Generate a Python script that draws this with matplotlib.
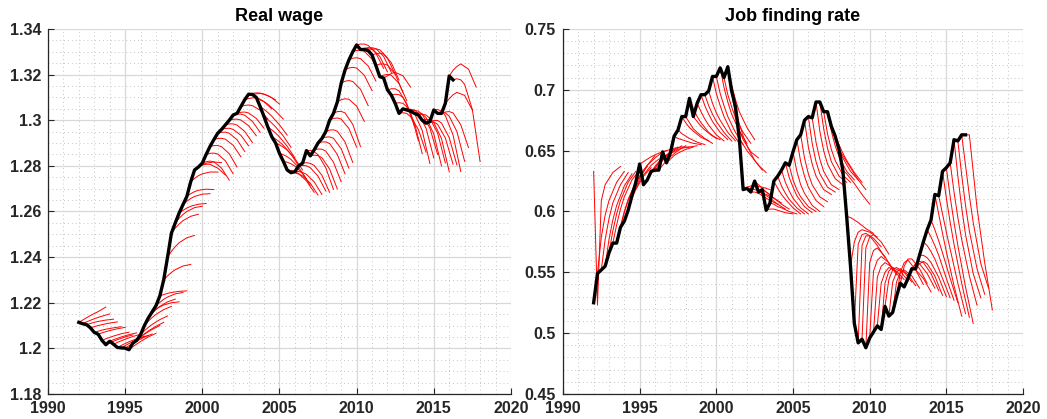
import numpy as np
import matplotlib.pyplot as plt
from matplotlib.ticker import MultipleLocator, FuncFormatter

plt.rcParams['font.family'] = ['Liberation Sans', 'DejaVu Sans']
plt.rcParams['font.weight'] = 'bold'

# quarterly data, first quarter = 1992Q1
first_year = 1992
horizons = [0, 1, 2, 3, 5, 7]  # forecast steps (quarters ahead) that are stored

# --- Real wage: actual series ---
wage = [
    1.2114, 1.2108, 1.2104, 1.2090,
    1.2070, 1.2062, 1.2035, 1.2016,
    1.2031, 1.2018, 1.2004, 1.2002,
    1.2001, 1.1994, 1.2023, 1.2035,
    1.2060, 1.2100, 1.2133, 1.2160,
    1.2187, 1.2230, 1.2300, 1.2400,
    1.2505, 1.2550, 1.2593, 1.2630,
    1.2666, 1.2730, 1.2782, 1.2795,
    1.2812, 1.2850, 1.2885, 1.2915,
    1.2943, 1.2960, 1.2980, 1.3000,
    1.3023, 1.3030, 1.3060, 1.3090,
    1.3114, 1.3113, 1.3100, 1.3060,
    1.3016, 1.2970, 1.2928, 1.2900,
    1.2855, 1.2820, 1.2782, 1.2770,
    1.2775, 1.2800, 1.2812, 1.2867,
    1.2844, 1.2870, 1.2900, 1.2920,
    1.2950, 1.3000, 1.3030, 1.3080,
    1.3162, 1.3220, 1.3264, 1.3300,
    1.3330, 1.3310, 1.3310, 1.3305,
    1.3286, 1.3240, 1.3191, 1.3185,
    1.3133, 1.3110, 1.3074, 1.3030,
    1.3050, 1.3045, 1.3040, 1.3030,
    1.3023, 1.3000, 1.2987, 1.2994,
    1.3045, 1.3030, 1.3030, 1.3074,
    1.3194, 1.3177,
]

# Real wage forecasts: change vs. start (x 0.001) at horizons 1,2,3,5,7
wage_fc = [
    [1.0, 2.0, 3.0, 4.7, 6.7], [0.8, 1.5, 2.2, 3.3, 4.3], [0.5, 1.0, 1.4, 2.0, 2.4], [0.5, 1.0, 1.4, 2.1, 2.6],
    [0.5, 1.0, 1.4, 2.0, 2.5], [0.6, 1.1, 1.6, 2.4, 3.0], [0.7, 1.3, 1.9, 2.9, 3.6], [0.8, 1.5, 2.2, 3.4, 4.3],
    [0.7, 1.3, 1.9, 2.9, 3.7], [0.8, 1.5, 2.2, 3.4, 4.4], [0.9, 1.7, 2.5, 3.8, 4.9], [1.0, 1.9, 2.8, 4.3, 5.5],
    [1.1, 2.1, 3.1, 4.8, 6.2], [1.3, 2.5, 3.6, 5.6, 7.2], [1.4, 2.7, 3.9, 6.0, 7.7], [1.5, 2.9, 4.1, 6.2, 7.9],
    [1.7, 3.2, 4.5, 6.6, 8.2], [1.9, 3.5, 4.9, 7.0, 8.4], [2.0, 3.7, 5.1, 7.1, 8.3], [1.2, 2.2, 3.0, 4.0, 4.4],
    [1.5, 2.8, 3.8, 5.2, 5.8], [0.6, 1.1, 1.5, 2.0, 2.2], [1.8, 3.3, 4.5, 6.1, 6.8], [2.5, 4.6, 6.3, 8.5, 9.5],
    [2.2, 4.0, 5.5, 7.4, 8.3], [2.0, 3.7, 5.0, 6.7, 7.3], [1.2, 2.2, 3.0, 3.9, 4.2], [1.5, 2.7, 3.6, 4.6, 4.8],
    [1.2, 2.1, 2.7, 3.2, 3.0], [1.5, 2.7, 3.5, 4.3, 4.3], [1.3, 2.3, 3.0, 3.5, 3.2], [0.8, 1.2, 1.2, -0.5, -3.5],
    [0.6, 0.9, 0.6, -2.2, -7.5], [0.5, 0.6, 0.2, -2.8, -8.5], [0.4, 0.4, -0.1, -3.2, -9.0], [0.5, 0.6, 0.2, -2.5, -7.5],
    [0.4, 0.5, 0.0, -2.8, -8.0], [0.4, 0.5, 0.0, -2.6, -7.2], [0.4, 0.4, -0.1, -2.9, -7.8], [0.4, 0.5, 0.1, -2.4, -6.8],
    [0.4, 0.4, -0.1, -2.8, -7.6], [0.5, 0.6, 0.2, -2.2, -6.5], [0.5, 0.7, 0.4, -1.6, -5.5], [0.5, 0.8, 0.7, -0.9, -4.0],
    [0.4, 0.6, 0.5, -0.6, -2.5], [0.3, 0.4, 0.2, -1.4, -4.2], [-0.8, -1.8, -3.0, -6.0, -9.5], [-1.2, -2.6, -4.2, -8.0, -12.5],
    [-1.3, -2.8, -4.5, -8.5, -13.5], [-1.2, -2.6, -4.3, -8.4, -13.5], [-1.0, -2.3, -3.8, -7.7, -12.8], [-0.8, -1.8, -3.1, -6.8, -11.8],
    [-0.6, -1.5, -2.7, -6.2, -11.2], [-0.4, -1.1, -2.1, -5.4, -10.5], [-0.2, -0.7, -1.6, -4.8, -9.8], [-0.1, -0.6, -1.4, -4.6, -9.8],
    [0.0, -0.4, -1.2, -4.5, -10.0], [0.2, 0.0, -0.8, -4.5, -11.0], [0.2, -0.1, -1.0, -5.3, -12.8], [0.1, -0.5, -1.8, -7.5, -17.0],
    [0.3, 0.1, -0.8, -5.8, -14.5], [0.4, 0.3, -0.5, -5.4, -14.0], [0.5, 0.5, -0.2, -5.0, -13.5], [0.6, 0.7, 0.1, -4.5, -13.0],
    [0.7, 0.8, 0.2, -4.5, -13.5], [0.8, 1.0, 0.5, -3.6, -11.8], [0.8, 0.9, 0.2, -4.8, -14.5], [1.0, 1.4, 1.2, -1.8, -8.5],
    [0.9, 1.2, 0.8, -2.6, -9.8], [0.9, 1.2, 0.9, -2.3, -9.0], [0.8, 1.0, 0.6, -2.6, -9.2], [0.6, 0.7, 0.2, -3.2, -10.0],
    [0.4, 0.4, -0.2, -3.6, -10.3], [0.6, 0.8, 0.4, -3.0, -9.8], [0.6, 0.8, 0.4, -3.0, -10.0], [0.6, 0.8, 0.4, -3.2, -10.5],
    [0.6, 0.8, 0.4, -3.4, -11.0], [0.6, 0.7, 0.2, -3.8, -11.8], [0.7, 1.0, 0.6, -3.0, -10.5], [1.0, 2.0, 2.5, 1.0, -4.0],
    [0.5, 0.5, -0.5, -6.0, -16.0], [0.4, 0.2, -1.0, -7.5, -20.0], [0.3, 0.0, -1.5, -8.5, -22.0], [0.3, 0.0, -1.5, -7.0, -17.0],
    [0.2, -0.3, -2.0, -9.5, -24.0], [0.3, 0.0, -1.5, -8.0, -21.0], [0.3, 0.0, -1.4, -7.5, -19.0], [0.3, -0.2, -1.8, -9.0, -23.0],
    [0.3, 0.0, -1.5, -8.0, -21.0], [0.4, 0.3, -1.0, -8.0, -22.5], [0.5, 0.5, -0.5, -6.5, -18.0], [0.5, 0.5, -0.6, -7.0, -19.0],
    [0.2, -0.5, -2.5, -11.0, -27.0], [0.4, 0.2, -1.2, -8.0, -21.0], [0.6, 0.8, 0.2, -5.0, -15.0], [2.0, 3.8, 4.8, 3.5, -3.0],
    [2.5, 4.2, 5.3, 3.0, -4.9], [0.5, 0.0, -2.0, -13.0, -35.8],
]

# --- Job finding rate: actual series ---
jfr = [
    0.525, 0.549, 0.552, 0.555,
    0.566, 0.574, 0.574, 0.587,
    0.592, 0.601, 0.613, 0.624,
    0.639, 0.622, 0.626, 0.633,
    0.634, 0.634, 0.649, 0.640,
    0.648, 0.662, 0.667, 0.678,
    0.678, 0.693, 0.678, 0.689,
    0.696, 0.696, 0.699, 0.711,
    0.711, 0.718, 0.710, 0.719,
    0.699, 0.686, 0.660, 0.618,
    0.619, 0.616, 0.625, 0.616,
    0.618, 0.601, 0.607, 0.625,
    0.629, 0.634, 0.640, 0.638,
    0.649, 0.659, 0.663, 0.675,
    0.678, 0.677, 0.690, 0.690,
    0.682, 0.682, 0.670, 0.662,
    0.651, 0.634, 0.596, 0.555,
    0.508, 0.492, 0.495, 0.488,
    0.496, 0.501, 0.506, 0.503,
    0.522, 0.514, 0.517, 0.530,
    0.541, 0.538, 0.545, 0.553,
    0.553, 0.564, 0.575, 0.585,
    0.593, 0.614, 0.613, 0.633,
    0.636, 0.640, 0.659, 0.658,
    0.663, 0.663,
]
jfr_fc_first_start = 0.633  # the 1992Q1 forecast line starts above the data

# Job finding forecasts: change vs. start (x 0.001) at horizons 1,2,3,5,7
jfr_fc = [
    [-2, 84, 97, 107, 112], [30, 48, 60, 75, 84], [25, 42, 55, 70, 80], [22, 38, 50, 66, 76],
    [18, 32, 43, 58, 67], [15, 28, 38, 52, 60], [14, 26, 36, 50, 59], [12, 22, 30, 42, 50],
    [10, 19, 26, 37, 44], [10, 19, 26, 37, 45], [6, 12, 17, 25, 30], [5, 10, 14, 20, 25],
    [2, 4, 6, 9, 11], [5, 10, 14, 21, 26], [5, 10, 14, 20, 25], [4, 8, 11, 16, 20],
    [4, 8, 11, 16, 20], [4, 8, 11, 16, 20], [1, 2, 3, 4, 4], [3, 6, 8, 11, 13],
    [1, 3, 4, 5, 6], [-2, -3, -4, -6, -7], [-3, -5, -7, -10, -12], [-5, -9, -12, -17, -20],
    [-5, -10, -13, -18, -22], [-8, -15, -20, -28, -33], [-4, -8, -11, -16, -19], [-7, -13, -18, -26, -31],
    [-9, -16, -22, -31, -37], [-9, -16, -22, -31, -38], [-10, -18, -24, -34, -41], [-14, -24, -33, -46, -55],
    [-14, -24, -33, -46, -56], [-16, -28, -38, -52, -62], [-14, -24, -33, -45, -54], [-15, -27, -37, -50, -60],
    [-20, -32, -40, -50, -55], [-14, -24, -32, -44, -52], [-5, -10, -14, -22, -28], [2, 3, 3, 2, 0],
    [0, -1, -2, -5, -8], [0, -1, -3, -7, -10], [-3, -6, -9, -14, -18], [-1, -3, -5, -10, -14],
    [-2, -4, -7, -12, -16], [1, 1, 0, -2, -3], [-1, -3, -4, -7, -9], [-6, -11, -15, -22, -27],
    [-8, -14, -19, -26, -31], [-10, -17, -23, -31, -36], [-12, -20, -27, -36, -41], [-12, -20, -26, -34, -38],
    [-16, -27, -34, -44, -49], [-18, -30, -39, -50, -55], [-19, -32, -41, -51, -55], [-22, -36, -46, -57, -61],
    [-22, -37, -47, -58, -62], [-20, -34, -44, -55, -59], [-24, -40, -51, -63, -68], [-22, -38, -49, -61, -66],
    [-18, -31, -40, -52, -58], [-16, -28, -37, -49, -56], [-10, -19, -26, -37, -44], [-7, -14, -20, -30, -38],
    [-5, -10, -15, -25, -33], [-3, -7, -11, -20, -28], [-1, -3, -5, -10, -14], [20, 28, 30, 28, 24],
    [65, 73, 74, 70, 63], [80, 88, 88, 80, 70], [75, 84, 86, 80, 70], [70, 80, 82, 75, 64],
    [55, 64, 67, 62, 52], [45, 54, 57, 53, 44], [35, 44, 48, 45, 38], [38, 48, 51, 48, 40],
    [22, 30, 32, 28, 20], [28, 36, 39, 34, 25], [25, 33, 35, 30, 20], [20, 28, 30, 22, 10],
    [14, 20, 20, 12, 0], [10, 14, 14, 7, -4], [8, 12, 12, 4, -8], [4, 6, 5, -4, -18],
    [4, 6, 4, -6, -22], [0, -2, -6, -18, -34], [-3, -8, -14, -30, -46], [-6, -13, -21, -40, -58],
    [-8, -17, -27, -48, -68], [-16, -32, -47, -75, -100], [-15, -30, -44, -72, -97], [-22, -42, -60, -92, -120],
    [-24, -45, -64, -98, -128], [-24, -45, -63, -93, -117], [-30, -56, -78, -110, -130], [-28, -53, -74, -105, -126],
    [-25, -50, -72, -106, -126], [0, -30, -60, -105, -144],
]


def draw_panel(ax, actual, forecasts, title, ylim, ystep, yminor, first_start=None):
    t = first_year + np.arange(len(actual)) / 4
    h = np.array(horizons) / 4
    for i, d in enumerate(forecasts):
        y0 = actual[i]
        start = first_start if (i == 0 and first_start is not None) else y0
        ys = [start] + [y0 + v / 1000 for v in d]
        ax.plot(t[i] + h, ys, color='red', lw=0.7, zorder=2)
    ax.plot(t, actual, color='black', lw=2.4, zorder=3)

    ax.set_xlim(1990, 2020)
    ax.set_ylim(*ylim)
    ax.xaxis.set_major_locator(MultipleLocator(5))
    ax.xaxis.set_minor_locator(MultipleLocator(1))
    ax.yaxis.set_major_locator(MultipleLocator(ystep))
    ax.yaxis.set_minor_locator(MultipleLocator(yminor))
    ax.yaxis.set_major_formatter(FuncFormatter(lambda v, p: f'{round(v, 4):g}'))

    ax.grid(which='major', color='#d8d8d8', lw=0.9)
    ax.grid(which='minor', color='#c4c4c4', lw=0.7, linestyle=(0, (1, 3)))
    ax.set_axisbelow(True)
    for s in ['top', 'right']:
        ax.spines[s].set_visible(False)
    for s in ['left', 'bottom']:
        ax.spines[s].set_color('#262626')
        ax.spines[s].set_linewidth(0.9)
    ax.tick_params(which='major', direction='in', length=4, width=0.8,
                   labelsize=11.5, pad=5, colors='#262626')
    ax.tick_params(which='minor', length=0)
    ax.set_title(title, fontsize=13, fontweight='bold', pad=6)


fig = plt.figure(figsize=(10.47, 4.19), dpi=100)
ax1 = fig.add_axes([0.0458, 0.0597, 0.4422, 0.8711])
ax2 = fig.add_axes([0.5377, 0.0597, 0.4394, 0.8711])

draw_panel(ax1, wage, wage_fc, 'Real wage', (1.18, 1.34), 0.02, 0.005)
draw_panel(ax2, jfr, jfr_fc, 'Job finding rate', (0.45, 0.75), 0.05, 0.01,
           first_start=jfr_fc_first_start)

fig.savefig('out.png', dpi=100)
